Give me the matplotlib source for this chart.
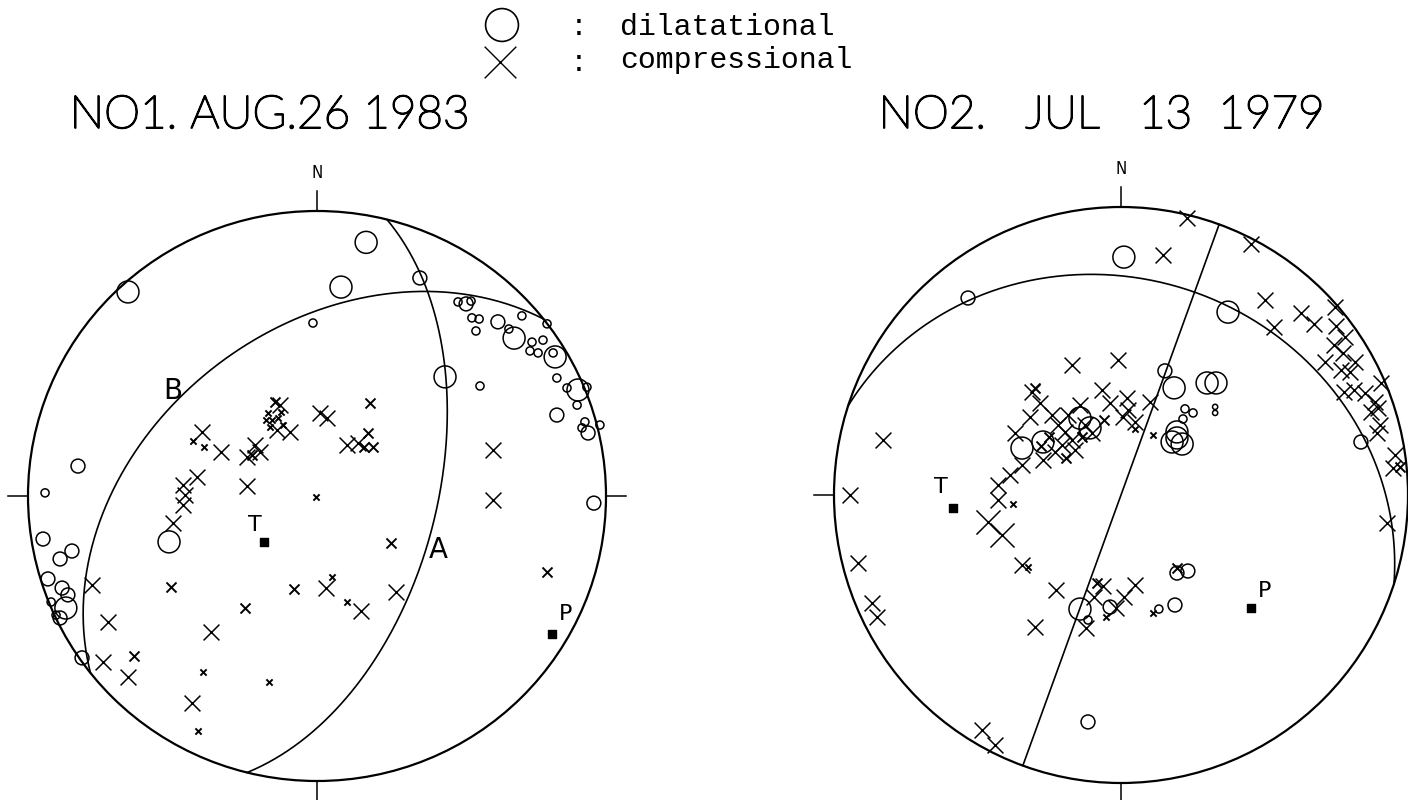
import numpy as np
import matplotlib
matplotlib.use("Agg")
import matplotlib.pyplot as plt
import matplotlib.patheffects as pe
from matplotlib.patches import Circle

# ---- data (equal-area net, x = east, y = north, unit radius)
# reading class: L = large, M = medium, S = small, T = tiny symbol

titles = ["NO1. AUG.26 1983", "NO2.   JUL   13  1979"]

# nodal planes (strike, dip) right-hand rule
planes_1 = [(14, 56), (231.6, 42)]
planes_2 = [(20, 90), (288, 26)]
plane_labels_1 = [("A", 0.42, -0.19), ("B", -0.50, 0.37)]

t_axis_1 = (-0.183, -0.161)
p_axis_1 = (0.813, -0.484)
t_axis_2 = (-0.585, -0.045)
p_axis_2 = (0.453, -0.392)

dil_1 = [
    (0.17, 0.89, "L"), (-0.654, 0.716, "L"), (0.083, 0.733, "L"), (0.356, 0.765, "M"),
    (-0.014, 0.607, "S"), (0.443, 0.418, "L"), (0.564, 0.386, "S"), (0.488, 0.681, "S"),
    (0.516, 0.674, "M"), (0.533, 0.684, "S"), (0.536, 0.625, "S"), (0.561, 0.621, "S"),
    (0.550, 0.579, "S"), (0.626, 0.611, "M"), (0.709, 0.632, "S"), (0.796, 0.604, "S"),
    (0.664, 0.586, "S"), (0.682, 0.554, "L"), (0.744, 0.540, "S"), (0.782, 0.547, "S"),
    (0.737, 0.509, "S"), (0.765, 0.502, "S"), (0.817, 0.502, "S"), (0.824, 0.488, "L"),
    (0.830, 0.414, "S"), (0.865, 0.379, "S"), (0.903, 0.372, "L"), (0.934, 0.382, "S"),
    (0.830, 0.284, "M"), (0.900, 0.319, "S"), (0.927, 0.260, "S"), (0.938, 0.221, "M"),
    (0.917, 0.239, "S"), (0.979, 0.249, "S"), (0.958, -0.025, "M"), (-0.827, 0.105, "M"),
    (-0.941, 0.011, "S"), (-0.948, -0.151, "M"), (-0.889, -0.221, "M"), (-0.848, -0.193, "M"),
    (-0.931, -0.291, "M"), (-0.882, -0.323, "M"), (-0.862, -0.347, "M"), (-0.920, -0.372, "S"),
    (-0.869, -0.393, "L"), (-0.889, -0.428, "M"), (-0.903, -0.418, "S"), (-0.813, -0.568, "M"),
    (-0.512, -0.161, "L"),
]

comp_1 = [
    (-0.398, 0.225, "M"), (-0.429, 0.193, "T"), (-0.391, 0.172, "T"), (-0.332, 0.154, "M"),
    (-0.415, 0.067, "M"), (-0.464, 0.039, "M"), (-0.457, 0.004, "M"), (-0.464, -0.032, "M"),
    (-0.498, -0.095, "M"), (-0.242, 0.035, "M"), (-0.242, 0.137, "M"), (-0.215, 0.179, "M"),
    (-0.197, 0.154, "M"), (-0.225, 0.144, "S"), (-0.138, 0.232, "M"), (-0.128, 0.319, "M"),
    (-0.145, 0.330, "S"), (-0.093, 0.225, "M"), (-0.170, 0.291, "T"), (-0.156, 0.267, "T"),
    (-0.135, 0.274, "T"), (-0.118, 0.249, "T"), (-0.163, 0.242, "T"), (-0.176, 0.267, "T"),
    (-0.125, 0.295, "T"), (0.010, 0.291, "M"), (0.035, 0.274, "M"), (0.183, 0.326, "S"),
    (0.104, 0.179, "M"), (0.142, 0.186, "M"), (0.176, 0.221, "S"), (0.194, 0.172, "S"),
    (0.163, 0.172, "S"), (-0.003, -0.004, "T"), (0.256, -0.165, "S"), (0.609, 0.161, "M"),
    (0.609, -0.014, "M"), (0.796, -0.267, "S"), (0.052, -0.284, "T"), (0.031, -0.323, "M"),
    (-0.080, -0.326, "S"), (-0.505, -0.319, "S"), (-0.249, -0.393, "S"), (0.104, -0.372, "T"),
    (0.152, -0.404, "M"), (0.273, -0.337, "M"), (-0.723, -0.442, "M"), (-0.367, -0.477, "M"),
    (-0.740, -0.582, "M"), (-0.633, -0.561, "S"), (-0.654, -0.635, "M"), (-0.394, -0.618, "T"),
    (-0.166, -0.653, "T"), (-0.433, -0.726, "M"), (-0.412, -0.825, "T"), (-0.779, -0.312, "M"),
]

dil_2 = [
    (0.010, 0.826, "L"), (-0.533, 0.684, "M"), (0.373, 0.635, "L"), (0.153, 0.431, "M"),
    (0.185, 0.372, "L"), (0.300, 0.389, "L"), (0.331, 0.389, "L"), (0.223, 0.299, "S"),
    (0.251, 0.285, "S"), (0.216, 0.264, "S"), (0.328, 0.306, "T"), (0.328, 0.285, "T"),
    (0.195, 0.219, "L"), (0.178, 0.184, "L"), (0.213, 0.177, "L"), (0.195, 0.198, "L"),
    (0.836, 0.184, "M"), (-0.345, 0.163, "L"), (-0.272, 0.184, "L"), (-0.143, 0.267, "L"),
    (-0.108, 0.233, "L"), (-0.143, -0.396, "L"), (-0.115, -0.434, "S"), (-0.038, -0.389, "M"),
    (0.132, -0.396, "S"), (0.188, -0.382, "M"), (0.195, -0.271, "M"), (0.233, -0.264, "M"),
    (-0.115, -0.788, "M"),
]

comp_2 = [
    (0.230, 0.962, "M"), (0.146, 0.833, "M"), (0.453, 0.872, "M"), (0.502, 0.677, "M"),
    (0.533, 0.583, "M"), (0.627, 0.632, "M"), (0.672, 0.594, "M"), (0.746, 0.653, "M"),
    (0.749, 0.587, "M"), (0.780, 0.549, "M"), (0.742, 0.521, "M"), (0.774, 0.493, "M"),
    (0.711, 0.462, "M"), (0.815, 0.462, "M"), (0.767, 0.434, "M"), (0.798, 0.427, "M"),
    (0.777, 0.358, "M"), (0.812, 0.365, "M"), (0.850, 0.354, "M"), (0.906, 0.389, "M"),
    (0.885, 0.323, "M"), (0.871, 0.288, "M"), (0.895, 0.302, "M"), (0.902, 0.243, "M"),
    (0.892, 0.215, "M"), (0.955, 0.139, "M"), (0.948, 0.094, "M"), (0.972, 0.097, "S"),
    (0.927, -0.097, "M"), (-0.829, 0.191, "M"), (-0.171, 0.451, "M"), (-0.010, 0.469, "M"),
    (-0.310, 0.358, "M"), (-0.300, 0.372, "S"), (-0.066, 0.365, "M"), (-0.038, 0.319, "M"),
    (0.021, 0.337, "M"), (0.024, 0.295, "M"), (0.101, 0.323, "M"), (-0.282, 0.319, "M"),
    (-0.240, 0.278, "M"), (-0.317, 0.271, "M"), (-0.143, 0.313, "M"), (-0.369, 0.215, "M"),
    (0.007, 0.271, "M"), (0.049, 0.253, "M"), (0.049, 0.229, "T"), (0.111, 0.208, "T"),
    (-0.272, 0.122, "M"), (-0.345, 0.104, "M"), (-0.387, 0.069, "M"), (-0.429, 0.035, "M"),
    (-0.429, -0.017, "M"), (-0.376, -0.031, "T"), (-0.463, -0.094, "L"), (-0.415, -0.139, "L"),
    (-0.220, 0.243, "M"), (-0.195, 0.219, "M"), (-0.171, 0.191, "M"), (-0.206, 0.174, "M"),
    (-0.125, 0.243, "M"), (-0.101, 0.215, "M"), (-0.160, 0.156, "M"), (-0.230, 0.149, "M"),
    (-0.185, 0.278, "M"), (-0.345, -0.243, "M"), (-0.324, -0.250, "T"), (-0.226, -0.330, "M"),
    (-0.300, -0.458, "M"), (-0.084, -0.306, "S"), (-0.063, -0.316, "M"), (-0.094, -0.354, "M"),
    (-0.122, -0.462, "M"), (-0.052, -0.424, "T"), (-0.017, -0.392, "M"), (0.010, -0.354, "M"),
    (0.049, -0.313, "M"), (0.111, -0.410, "T"), (0.195, -0.253, "S"), (-0.944, 0.000, "M"),
    (-0.916, -0.236, "M"), (-0.868, -0.375, "M"), (-0.850, -0.424, "M"), (-0.484, -0.816, "M"),
    (-0.439, -0.868, "M"), (-0.250, 0.200, "S"), (-0.135, 0.200, "S"), (-0.060, 0.260, "S"),
    (-0.280, 0.170, "S"), (-0.190, 0.130, "S"),
]

# ---- drawing
W, H = 1408, 800
CIRCLE_S = {"L": 250, "M": 100, "S": 34, "T": 14}
CROSS_S = {"L": 300, "M": 130, "S": 52, "T": 20}

fig = plt.figure(figsize=(W / 100, H / 100), dpi=100)
fig.patch.set_facecolor("white")


def plane_curve(strike, dip, n=241):
    """great circle of a plane, lower hemisphere equal-area"""
    s, d = np.radians(strike), np.radians(dip)
    lam = np.linspace(0, np.pi, n)
    sv = np.array([np.sin(s), np.cos(s), 0.0])
    dd = s + np.pi / 2
    dv = np.array([np.cos(d) * np.sin(dd), np.cos(d) * np.cos(dd), -np.sin(d)])
    v = np.outer(np.cos(lam), sv) + np.outer(np.sin(lam), dv)
    trend = np.arctan2(v[:, 0], v[:, 1])
    plunge = np.arcsin(np.clip(-v[:, 2], -1, 1))
    r = np.sqrt(2) * np.sin((np.pi / 2 - plunge) / 2)
    return r * np.sin(trend), r * np.cos(trend)


def net_axes(cx, cy, rx, ry, lim=1.25):
    ax = fig.add_axes([(cx - lim * rx) / W, (H - cy - lim * ry) / H,
                       2 * lim * rx / W, 2 * lim * ry / H])
    ax.set_xlim(-lim, lim)
    ax.set_ylim(-lim, lim)
    ax.set_aspect("auto")
    ax.axis("off")
    return ax


def draw_net(ax, planes, dil, comp, t_ax, p_ax, t_off, p_off):
    ax.add_patch(Circle((0, 0), 1, fill=False, lw=1.6, color="black"))
    tk = 0.07
    for x0, y0, x1, y1 in [(0, 1, 0, 1 + tk), (0, -1, 0, -1 - tk),
                           (-1, 0, -1 - tk, 0), (1, 0, 1 + tk, 0)]:
        ax.plot([x0, x1], [y0, y1], color="black", lw=1.1, clip_on=False)
    ax.text(0, 1 + tk + 0.03, "N", ha="center", va="bottom", fontsize=12,
            family="DejaVu Sans", fontstretch="condensed")
    for strike, dip in planes:
        x, y = plane_curve(strike, dip)
        ax.plot(x, y, color="black", lw=1.2)
    for cls, s in CIRCLE_S.items():
        pts = [(x, y) for x, y, c in dil if c == cls]
        if pts:
            px, py = zip(*pts)
            ax.scatter(px, py, s=s, marker="o", facecolors="none",
                       edgecolors="black", linewidths=1.1, zorder=3)
    for cls, s in CROSS_S.items():
        pts = [(x, y) for x, y, c in comp if c == cls]
        if pts:
            px, py = zip(*pts)
            ax.scatter(px, py, s=s, marker="x", color="black",
                       linewidths=1.1 if cls in "LM" else 1.4, zorder=3)
    for (x, y), lab, off in [(t_ax, "T", t_off), (p_ax, "P", p_off)]:
        ax.scatter([x], [y], s=40, marker="s", color="black", zorder=4)
        ax.annotate(lab, (x, y), xytext=off, textcoords="offset points",
                    ha="center", va="center", fontsize=16, family="DejaVu Sans")


ax1 = net_axes(317, 496, 289, 285)
draw_net(ax1, planes_1, dil_1, comp_1, t_axis_1, p_axis_1, (-7, 12), (10, 14))
for lab, x, y in plane_labels_1:
    ax1.text(x, y, lab, fontsize=20, ha="center", va="center", family="DejaVu Sans")

ax2 = net_axes(1121, 495, 287, 288)
draw_net(ax2, planes_2, dil_2, comp_2, t_axis_2, p_axis_2, (-9, 15), (10, 12))

# ---- titles and legend (pixel layout overlay)
ov = fig.add_axes([0, 0, 1, 1])
ov.set_xlim(0, W)
ov.set_ylim(H, 0)
ov.axis("off")
ov.patch.set_alpha(0)

title_kw = dict(fontsize=33, ha="center", va="baseline", color="black",
                family=["Lato", "DejaVu Sans"], fontweight="light",
                path_effects=[pe.withStroke(linewidth=1.3, foreground="black")])
ov.text(270, 128, titles[0], **title_kw)
ov.text(1102, 128, titles[1], **title_kw)

ov.scatter([502], [25], s=560, marker="o", facecolors="none", edgecolors="black", linewidths=1.2)
ov.scatter([500], [62], s=520, marker="x", color="black", linewidths=1.0)
mono = dict(fontsize=21.5, family="Liberation Mono", va="center", ha="left")
ov.text(570, 27, ":", **mono)
ov.text(570, 63, ":", **mono)
ov.text(620, 27, "dilatational", **mono)
ov.text(620, 60, "compressional", **mono)

fig.savefig("out.png", dpi=100, facecolor="white")
